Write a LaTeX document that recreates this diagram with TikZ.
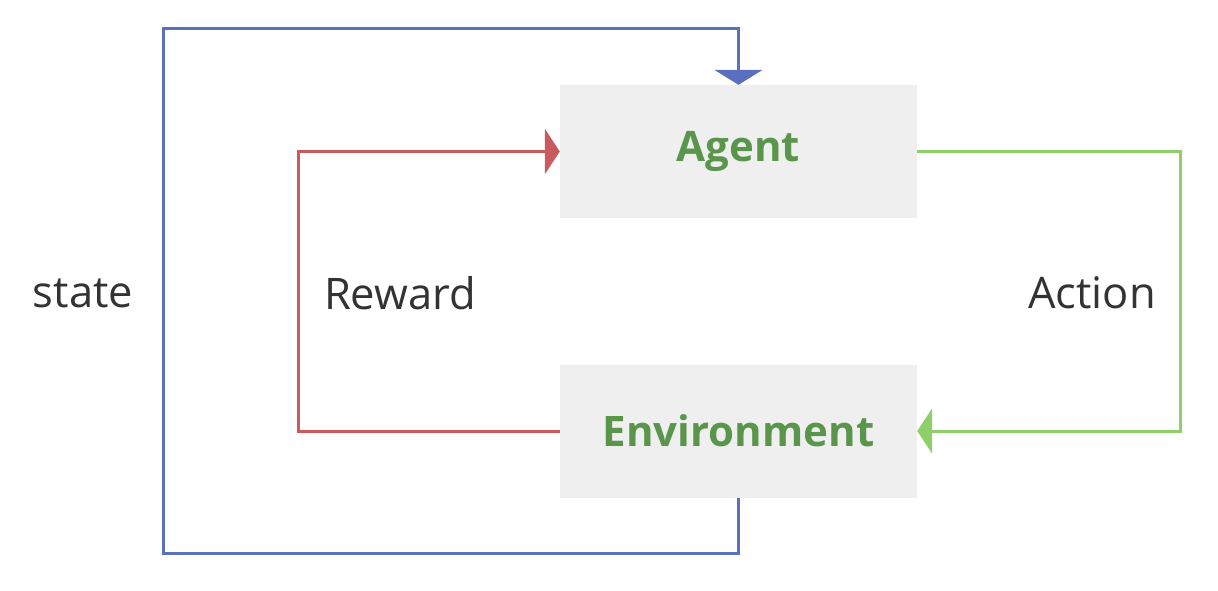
\documentclass[tikz,border=0pt]{standalone}
\usepackage{fontspec}
\setmainfont{Open Sans}
\usetikzlibrary{arrows.meta}
\definecolor{boxgray}{HTML}{EFEFEF}
\definecolor{bluel}{HTML}{5A6FC0}
\definecolor{redl}{HTML}{C95A5E}
\definecolor{greenl}{HTML}{8FCF6A}
\definecolor{greent}{HTML}{5A954C}
\definecolor{textg}{HTML}{333333}
\tikzset{
  box/.style={fill=boxgray, minimum width=357pt, minimum height=133pt, inner sep=0pt,
    font=\fontsize{42}{50}\selectfont\bfseries, text=greent},
  lbl/.style={font=\fontsize{43.5}{50}\selectfont, text=textg, inner sep=0pt},
  conn/.style={line width=3pt},
}
\begin{document}
\begin{tikzpicture}[x=1pt,y=-1pt]
\useasboundingbox[fill=white] (0,0) rectangle (1218,590);
\node[box] (agent) at (738.5,151.5) {Agent};
\node[box] (env) at (738.5,431) {Environment};
\node[lbl] (state) at (83,293) {state};
\node[lbl] (reward) at (400,293) {Reward};
\node[lbl] (action) at (1092,293) {Action};
% state loop
\draw[conn, bluel, -{Triangle[width=48pt,length=15pt]}] (env.south) -- ++(0,56) -| (163,28) -| (agent.north);
% reward
\draw[conn, redl, -{Triangle[width=45pt,length=15pt]}] (env.west) -| (298,151.5) -- (agent.west);
% action
\draw[conn, greenl, -{Triangle[width=45pt,length=15pt]}] (agent.east) -| (1180,431) -- (env.east);
\end{tikzpicture}
\end{document}
